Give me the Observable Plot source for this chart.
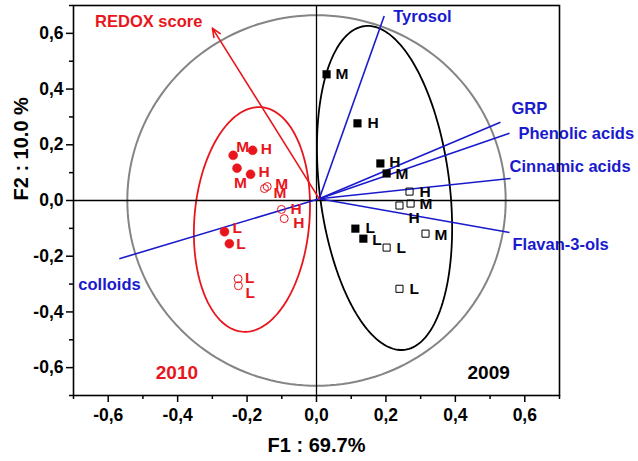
<!DOCTYPE html>
<html>
<head>
<meta charset="utf-8">
<script src="https://cdn.jsdelivr.net/npm/d3@7"></script>
<script src="https://cdn.jsdelivr.net/npm/@observablehq/plot@0.6"></script>
<style>
  html, body { margin: 0; padding: 0; background: white; }
</style>
</head>
<body>
<div id="chart"></div>
<script>
// ---------- DATA ----------
const xTicks = [-0.6, -0.4, -0.2, 0, 0.2, 0.4, 0.6];
const yTicks = [-0.6, -0.4, -0.2, 0, 0.2, 0.4, 0.6];
const minorTicks = [-0.7, -0.5, -0.3, -0.1, 0.1, 0.3, 0.5, 0.7];

// 2010 samples (red circles)
const labels2010 = ["M", "H", "M", "H", "M", "M", "H", "H", "L", "L", "L", "L"];
const f1_2010 = [-0.240, -0.184, -0.229, -0.190, -0.150, -0.142, -0.101, -0.093, -0.265, -0.251, -0.226, -0.225];
const f2_2010 = [0.162, 0.180, 0.116, 0.094, 0.043, 0.050, -0.032, -0.065, -0.112, -0.155, -0.281, -0.306];
const filled2010 = [1, 1, 1, 1, 0, 0, 0, 0, 1, 1, 0, 0];

// 2009 samples (black squares)
const labels2009 = ["M", "H", "H", "M", "H", "M", "H", "M", "L", "L", "L", "L"];
const f1_2009 = [0.029, 0.118, 0.184, 0.202, 0.268, 0.271, 0.239, 0.314, 0.112, 0.135, 0.202, 0.239];
const f2_2009 = [0.453, 0.277, 0.133, 0.097, 0.032, -0.011, -0.018, -0.119, -0.101, -0.137, -0.169, -0.317];
const filled2009 = [1, 1, 1, 1, 0, 0, 0, 0, 1, 1, 0, 0];

// variable loadings (blue vectors)
const varNames = ["Tyrosol", "GRP", "Phenolic acids", "Cinnamic acids", "Flavan-3-ols", "colloids"];
const varF1 = [0.195, 0.530, 0.556, 0.559, 0.556, -0.568];
const varF2 = [0.662, 0.281, 0.241, 0.079, -0.115, -0.209];

// supplementary variable (red arrow)
const suppName = "REDOX score";
const suppF1 = -0.300;
const suppF2 = 0.619;

// year labels
const yearNames = ["2010", "2009"];
const yearF1 = [-0.402, 0.496];
const yearF2 = [-0.618, -0.618];

// confidence ellipses + correlation circle: centre and two semi-axis vectors
const ellNames = ["2010", "2009", "circle"];
const ellCx = [-0.186, 0.196, 0];
const ellCy = [-0.068, 0.045, 0];
const ellUx = [0.0274, -0.0576, 0.545];
const ellUy = [0.403, 0.581, 0];
const ellVx = [0.165, 0.186, 0];
const ellVy = [-0.0175, 0.0288, 0.665];

// ---------- STYLE ----------
const RED = "#e8161c";
const BLUE = "#1a1acd";
const FONT = "Liberation Sans, Arial, Helvetica, sans-serif";
const lab2010Dx = [3, 8, -3, 8, 9, 8, 9, 9, 8, 7, 7, 7];
const lab2010Dy = [-8, -1, 15, -2, 5, -3, 0, 4, -4, 0, -1, 7];
const lab2009Dx = [9, 10, 9, 9, 10, 9, 9, 9, 10, 9, 10, 10];
const lab2009Dy = [0, 0, -1, 1, 0, 0, 13, 1, -1, 1, 0, 0];
const varDx = [9, 11, 9, -1, 3, -41];
const varDy = [1, -14, 0, -12, 12, 26];
const ellColors = [RED, "black", "#858585"];
const ellWidths = [1.8, 1.8, 2];

// ---------- BUILD ----------
const s2010 = labels2010.map((l, i) => ({label: l, x: f1_2010[i], y: f2_2010[i], filled: filled2010[i]}));
const s2009 = labels2009.map((l, i) => ({label: l, x: f1_2009[i], y: f2_2009[i], filled: filled2009[i]}));
const vars = varNames.map((n, i) => ({name: n, x: varF1[i], y: varF2[i]}));

const N = 180;
const ellipses = ellNames.map((name, k) => d3.range(N).map(j => {
  const t = 2 * Math.PI * j / N;
  return {
    x: ellCx[k] + ellUx[k] * Math.cos(t) + ellVx[k] * Math.sin(t),
    y: ellCy[k] + ellUy[k] * Math.cos(t) + ellVy[k] * Math.sin(t)
  };
}));

const fmt = d => d3.format(".1f")(d).replace("\u2212", "-").replace(".", ",");

const marks = [];
// correlation circle and ellipses
ellipses.forEach((pts, k) => {
  marks.push(Plot.line(pts, {x: "x", y: "y", curve: "linear-closed", stroke: ellColors[k], strokeWidth: ellWidths[k]}));
});
// zero lines
marks.push(Plot.ruleX([0], {stroke: "black", strokeWidth: 1.3}));
marks.push(Plot.ruleY([0], {stroke: "black", strokeWidth: 1.3}));
// vectors
marks.push(Plot.link(vars, {x1: () => 0.008, y1: () => 0.006, x2: "x", y2: "y", stroke: BLUE, strokeWidth: 1.6}));
marks.push(Plot.arrow([{x: suppF1, y: suppF2}], {x1: () => 0.008, y1: () => 0.006, x2: "x", y2: "y", stroke: RED, strokeWidth: 1.6, headLength: 9, headAngle: 45}));
// points
marks.push(Plot.dot(s2010.filter(d => d.filled), {x: "x", y: "y", r: 4.5, fill: RED, stroke: RED, strokeWidth: 0.5}));
marks.push(Plot.dot(s2010.filter(d => !d.filled), {x: "x", y: "y", r: 4, fill: "none", stroke: RED, strokeWidth: 1}));
marks.push(Plot.dot(s2009.filter(d => d.filled), {x: "x", y: "y", r: 4.6, symbol: "square", fill: "black"}));
marks.push(Plot.dot(s2009.filter(d => !d.filled), {x: "x", y: "y", r: 4, symbol: "square", fill: "none", stroke: "black", strokeWidth: 1}));
// point labels
s2010.forEach((d, i) => marks.push(Plot.text([d], {x: "x", y: "y", text: "label", fill: RED, fontSize: 15.5, fontWeight: "bold", textAnchor: "start", dx: lab2010Dx[i], dy: lab2010Dy[i]})));
s2009.forEach((d, i) => marks.push(Plot.text([d], {x: "x", y: "y", text: "label", fill: "black", fontSize: 15.5, fontWeight: "bold", textAnchor: "start", dx: lab2009Dx[i], dy: lab2009Dy[i]})));
// vector labels
vars.forEach((d, i) => marks.push(Plot.text([d], {x: "x", y: "y", text: "name", fill: BLUE, fontSize: 16.5, fontWeight: "bold", textAnchor: "start", dx: varDx[i], dy: varDy[i]})));
marks.push(Plot.text([{x: suppF1, y: suppF2, t: suppName}], {x: "x", y: "y", text: "t", fill: RED, fontSize: 16.5, fontWeight: "bold", textAnchor: "end", dx: -10, dy: -6}));
// year labels
marks.push(Plot.text(yearNames.map((n, i) => ({n, x: yearF1[i], y: yearF2[i]})), {x: "x", y: "y", text: "n", fill: (d, i) => i === 0 ? RED : "black", fontSize: 19, fontWeight: "bold"}));
// axes
marks.push(Plot.axisX(xTicks, {tickSize: 7, tickPadding: 6, tickFormat: fmt, fontSize: 17.5, fontWeight: "bold", label: null, strokeWidth: 1.5}));
marks.push(Plot.axisX(minorTicks, {tickSize: 4, tickFormat: null, text: null, label: null, strokeWidth: 1.5}));
marks.push(Plot.axisY(yTicks, {tickSize: 7, tickPadding: 3, tickFormat: fmt, fontSize: 17.5, fontWeight: "bold", label: null, strokeWidth: 1.5}));
marks.push(Plot.axisY(minorTicks, {tickSize: 4, tickFormat: null, text: null, label: null, strokeWidth: 1.5}));
marks.push(Plot.text(["F1 : 69.7%"], {frameAnchor: "bottom", dy: 56, fontSize: 20, fontWeight: "bold", fill: "black"}));
marks.push(Plot.text(["F2 : 10.0 %"], {frameAnchor: "left", dx: -52, rotate: -90, fontSize: 20, fontWeight: "bold", fill: "black"}));
marks.push(Plot.frame({stroke: "black", strokeWidth: 1.6}));

const chart = Plot.plot({
  width: 638,
  height: 461,
  marginLeft: 73,
  marginRight: 79,
  marginTop: 5,
  marginBottom: 66,
  x: {domain: [-0.7, 0.7]},
  y: {domain: [-0.7, 0.7]},
  style: {fontFamily: FONT, background: "white", color: "black", overflow: "visible"},
  marks
});
document.getElementById("chart").appendChild(chart);
</script>
</body>
</html>
